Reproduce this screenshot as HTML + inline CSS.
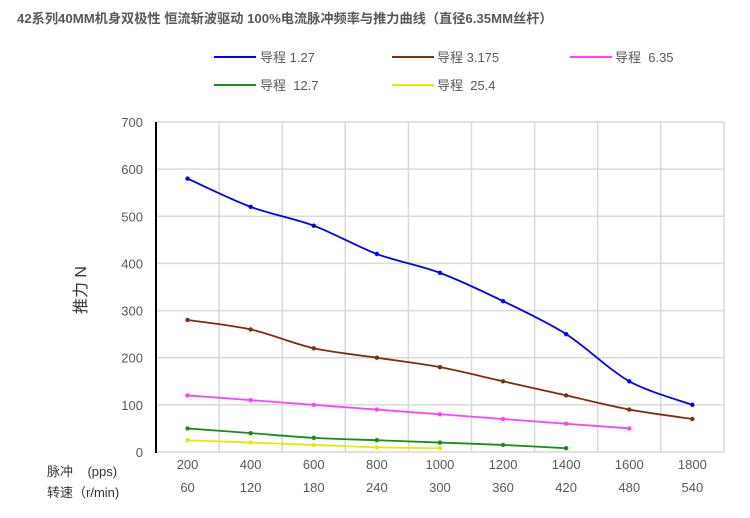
<!DOCTYPE html>
<html><head><meta charset="utf-8"><style>
body{margin:0;background:#fff;}
svg{display:block;font-family:"Liberation Sans","Noto Sans CJK SC",sans-serif;}
</style></head><body>
<svg id="s" width="750" height="518" viewBox="0 0 750 518">
<text x="17" y="23" font-size="13.2" font-weight="bold" fill="#595959">42系列40MM机身双极性 恒流斩波驱动 100%电流脉冲频率与推力曲线（直径6.35MM丝杆）</text>
<g font-size="13" fill="#595959">
<line x1="214" y1="57" x2="256" y2="57" stroke="#0000ff" stroke-width="2"/><text x="260" y="62">导程 1.27</text>
<line x1="392" y1="57" x2="434" y2="57" stroke="#7f2f10" stroke-width="2"/><text x="437" y="62">导程 3.175</text>
<line x1="570" y1="57" x2="612" y2="57" stroke="#ff40ff" stroke-width="2"/><text x="615" y="62">导程&#160;&#160;6.35</text>
<line x1="214" y1="85" x2="256" y2="85" stroke="#1a8c1a" stroke-width="2"/><text x="260" y="90">导程&#160;&#160;12.7</text>
<line x1="392" y1="85" x2="434" y2="85" stroke="#e8e800" stroke-width="2"/><text x="437" y="90">导程&#160;&#160;25.4</text>
</g>
<g id="grid" stroke="#d9d9d9" stroke-width="1.5"></g>
<line x1="156" y1="122" x2="156" y2="453" stroke="#000" stroke-width="2"/>
<g id="ylab" font-size="13" fill="#595959" text-anchor="end"></g>
<g id="xlab" font-size="13" fill="#595959" text-anchor="middle"></g>
<text x="86" y="290" font-size="16" fill="#333" transform="rotate(-90 86 290)" text-anchor="middle">推力 N</text>
<text x="47" y="476" font-size="13" fill="#333">脉冲&#160;&#160;&#160;&#160;(pps)</text>
<text x="47" y="497" font-size="13" fill="#333">转速（r/min)</text>
<g id="series"></g>
</svg>
<script>
var NS="http://www.w3.org/2000/svg";
function el(p,t,a,txt){var e=document.createElementNS(NS,t);for(var k in a)e.setAttribute(k,a[k]);if(txt!=null)e.textContent=txt;document.getElementById(p).appendChild(e);return e;}
var X0=156,W=63.1,Y=function(v){return 452-v*330/700;};
for(var v=100;v<=700;v+=100)el("grid","line",{x1:X0,x2:724,y1:Y(v),y2:Y(v)});
el("grid","line",{x1:X0,x2:724,y1:452,y2:452});
for(var i=1;i<=9;i++)el("grid","line",{x1:X0+i*W,x2:X0+i*W,y1:122,y2:452});
for(var v=0;v<=700;v+=100)el("ylab","text",{x:143,y:Y(v)+5},v);
var pps=[200,400,600,800,1000,1200,1400,1600,1800],rpm=[60,120,180,240,300,360,420,480,540];
for(var i=0;i<9;i++){var cx=X0+W*(i+.5);el("xlab","text",{x:cx,y:469},pps[i]);el("xlab","text",{x:cx,y:492},rpm[i]);}
var S=[["#0000ff",[580,520,480,420,380,320,250,150,100]],["#7f2f10",[280,260,220,200,180,150,120,90,70]],["#ff40ff",[120,110,100,90,80,70,60,50]],["#1a8c1a",[50,40,30,25,20,15,8]],["#e8e800",[25,20,15,10,8]]];
S.forEach(function(s){var p=s[1].map(function(v,i){return [X0+W*(i+.5),Y(v)];});
var d="M"+p[0][0]+","+p[0][1];
for(var i=0;i<p.length-1;i++){var p0=p[i-1]||p[i],p1=p[i],p2=p[i+1],p3=p[i+2]||p2,t=0.15;
d+=" C"+(p1[0]+(p2[0]-p0[0])*t)+","+(p1[1]+(p2[1]-p0[1])*t)+" "+(p2[0]-(p3[0]-p1[0])*t)+","+(p2[1]-(p3[1]-p1[1])*t)+" "+p2[0]+","+p2[1];}
el("series","path",{d:d,fill:"none",stroke:s[0],"stroke-width":1.8});
p.forEach(function(q){el("series","circle",{cx:q[0],cy:q[1],r:2.2,fill:s[0]});});});
</script>
</body></html>
